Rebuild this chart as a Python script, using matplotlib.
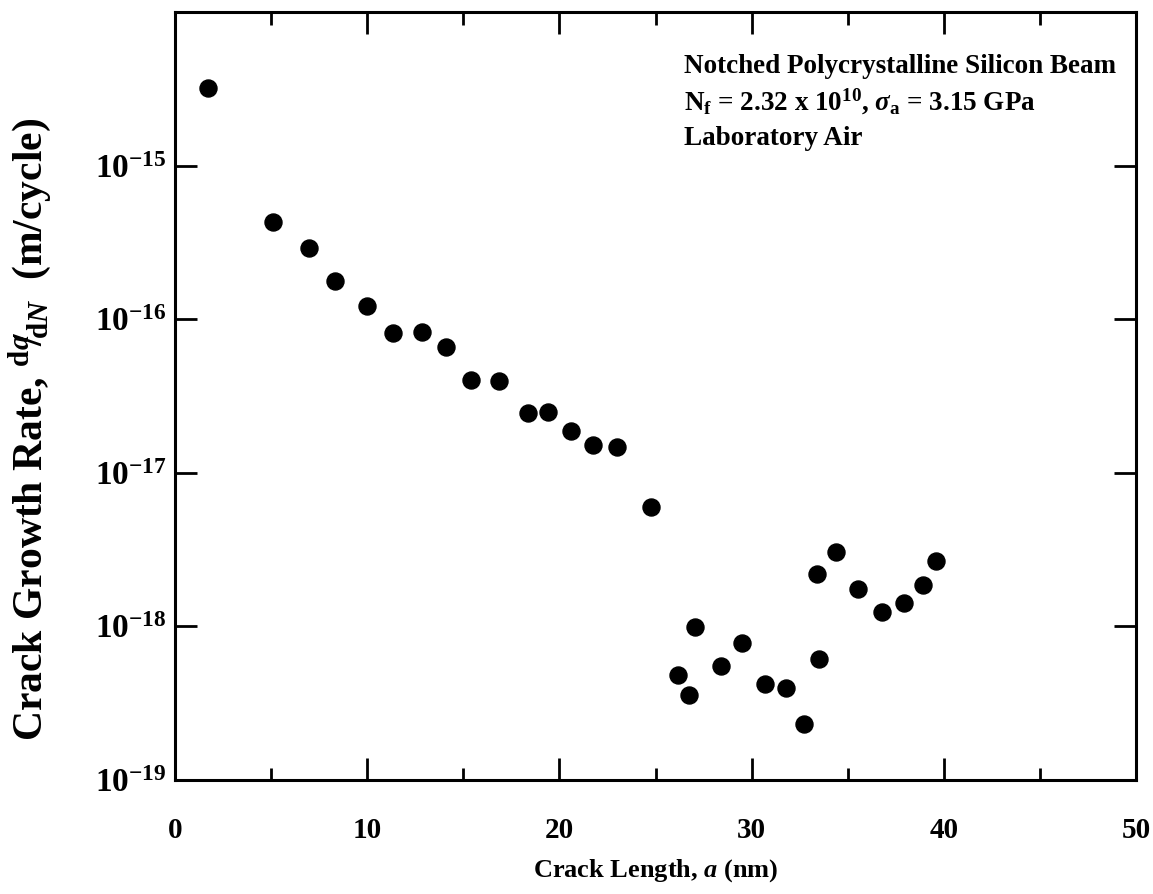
import numpy as np
import matplotlib
matplotlib.use("Agg")
import matplotlib.pyplot as plt
from matplotlib.ticker import MultipleLocator, FixedLocator, NullLocator, FuncFormatter

plt.rcParams['font.family'] = 'Liberation Serif'
plt.rcParams['font.weight'] = 'bold'
plt.rcParams['axes.labelweight'] = 'bold'
plt.rcParams['mathtext.fontset'] = 'custom'
plt.rcParams['mathtext.rm'] = 'Liberation Serif:bold'
plt.rcParams['mathtext.bf'] = 'Liberation Serif:bold'
plt.rcParams['mathtext.it'] = 'Liberation Serif:italic:bold'

# crack length a (nm)
crack_length = [1.72, 5.1, 6.98, 8.33, 10.0, 11.35, 12.86, 14.11, 15.42, 16.88,
                18.39, 19.43, 20.6, 21.77, 23.0, 24.74,
                26.15, 26.72, 27.03, 28.39, 29.48, 30.68, 31.77, 32.71,
                33.39, 33.49, 34.38, 35.52, 36.77, 37.92, 38.9, 39.58]

# crack growth rate da/dN (m/cycle)
growth_rate = [3.2e-15, 4.3e-16, 2.9e-16, 1.77e-16, 1.21e-16, 8.1e-17, 8.2e-17, 6.6e-17,
               4.0e-17, 3.96e-17, 2.45e-17, 2.49e-17, 1.87e-17, 1.52e-17, 1.47e-17, 6.0e-18,
               4.8e-19, 3.6e-19, 9.9e-19, 5.5e-19, 7.8e-19, 4.2e-19, 3.96e-19, 2.3e-19,
               2.18e-18, 6.1e-19, 3.07e-18, 1.74e-18, 1.25e-18, 1.43e-18, 1.87e-18, 2.68e-18]

decades = [1e-19, 1e-18, 1e-17, 1e-16, 1e-15]
x_major = [0, 10, 20, 30, 40, 50]

fig = plt.figure(figsize=(11.53, 8.94), dpi=100)
ax = fig.add_axes([175/1153, 114/894, 961/1153, 768/894])

ax.scatter(crack_length, growth_rate, s=150, color='black', zorder=3)

ax.set_yscale('log')
ax.set(xlim=(0, 50), ylim=(1e-19, 1e-14))

ax.xaxis.set_major_locator(FixedLocator(x_major))
ax.xaxis.set_minor_locator(MultipleLocator(5))
ax.yaxis.set_major_locator(FixedLocator(decades))
ax.yaxis.set_minor_locator(NullLocator())
ax.yaxis.set_major_formatter(FuncFormatter(lambda v, p: r'$\mathbf{10^{%d}}$' % round(np.log10(v))))

ax.tick_params(which='both', direction='in', top=True, right=True, width=2)
ax.tick_params(which='major', length=16)
ax.tick_params(which='minor', length=9)
ax.tick_params(axis='x', labelsize=21, pad=27)
ax.tick_params(axis='y', labelsize=24, pad=6)

for s in ax.spines.values():
    s.set_linewidth(2.2)

ax.set_xlabel(r'Crack Length, $\mathit{a}$ (nm)', fontsize=19, labelpad=9)
ax.set_ylabel(r'Crack Growth Rate, $^{\mathrm{d}\mathit{a}}\!\!/\!_{\mathrm{d}\mathit{N}}$  (m/cycle)', fontsize=30)
ax.yaxis.set_label_coords(-0.126, 0.456)

ax.text(0.53, 0.921, 'Notched Polycrystalline Silicon Beam', transform=ax.transAxes,
        fontsize=19.5, va='baseline', ha='left')
ax.text(0.53, 0.872, r'N$_\mathrm{f}$ = 2.32 x 10$^{\mathrm{10}}$, $\sigma_\mathrm{a}$ = 3.15 GPa',
        transform=ax.transAxes, fontsize=19.5, va='baseline', ha='left')
ax.text(0.53, 0.827, 'Laboratory Air', transform=ax.transAxes,
        fontsize=19.5, va='baseline', ha='left')

plt.savefig("out.png", dpi=100)
